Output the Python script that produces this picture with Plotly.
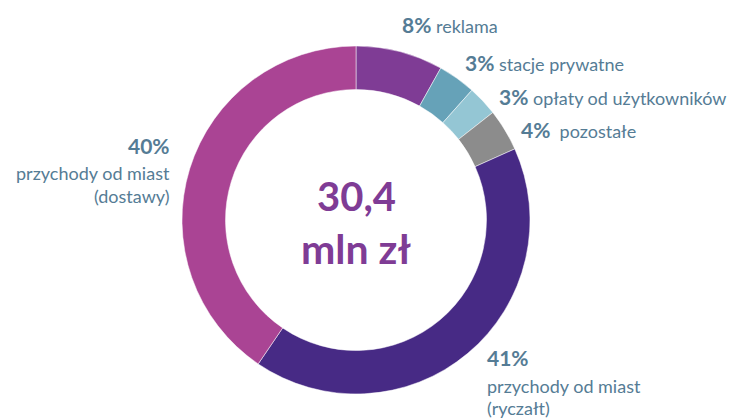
import plotly.graph_objects as go

W, H = 736, 419
OFF = 8  # page body margin

categories = [
    "reklama",
    "stacje prywatne",
    "opłaty od użytkowników",
    "pozostałe",
    "przychody od miast (ryczałt)",
    "przychody od miast (dostawy)",
]
shares = [8.1, 3.5, 2.8, 3.9, 41.2, 40.5]
pct_labels = ["8%", "3%", "3%", "4%", "41%", "40%"]
colors = ["#7F3C95", "#66A2B8", "#94C6D4", "#8C8C8C", "#472A85", "#AA4494"]

TEXT = "#557C95"
FONT = "Lato"


def px_x(x):
    return (x - OFF) / W


def px_y(y):
    return 1 - (y - OFF) / H


fig = go.Figure(
    go.Pie(
        labels=categories,
        values=shares,
        hole=0.75,
        sort=False,
        direction="clockwise",
        rotation=0,
        marker={"colors": colors, "line": {"color": "white", "width": 0.5}},
        textinfo="none",
        hoverinfo="label+percent",
        domain={"x": [px_x(182), px_x(530)], "y": [px_y(394), px_y(46)]},
        showlegend=False,
    )
)


def label(x, y, text, size=18, bold=False, anchor="left", color=TEXT):
    fig.add_annotation(
        x=px_x(x), y=px_y(y), xref="paper", yref="paper",
        text=f"<b>{text}</b>" if bold else text,
        showarrow=False, xanchor=anchor, yanchor="middle",
        font={"family": FONT, "size": size, "color": color},
    )


# center total
label(356, 196, "30,4", size=40, bold=True, anchor="center", color="#7F3C95")
label(356, 248, "mln zł", size=41, bold=True, anchor="center", color="#7F3C95")

# small slices (single-line labels)
rows = [(400, 25, 0), (463, 63, 1), (497, 96, 2), (519, 129, 3)]
for x, y, i in rows:
    name = categories[i] if i != 3 else "\u00a0" + categories[i]
    fig.add_annotation(
        x=px_x(x), y=px_y(y), xref="paper", yref="paper",
        text=f"<b><span style='font-size:21px'>{pct_labels[i]}</span></b> {name}",
        showarrow=False, xanchor="left", yanchor="middle",
        font={"family": FONT, "size": 18, "color": TEXT},
    )

# big slices
label(172, 145, pct_labels[5], size=21, bold=True, anchor="right")
label(172, 173, "przychody od miast", anchor="right")
label(172, 196, "(dostawy)", anchor="right")

label(485, 357, pct_labels[4], size=21, bold=True)
label(485, 386, "przychody od miast")
label(485, 408, "(ryczałt)")

fig.update_layout(
    width=W,
    height=H,
    margin={"l": 0, "r": 0, "t": 0, "b": 0},
    paper_bgcolor="white",
    plot_bgcolor="white",
)
fig.write_html("out.html")
